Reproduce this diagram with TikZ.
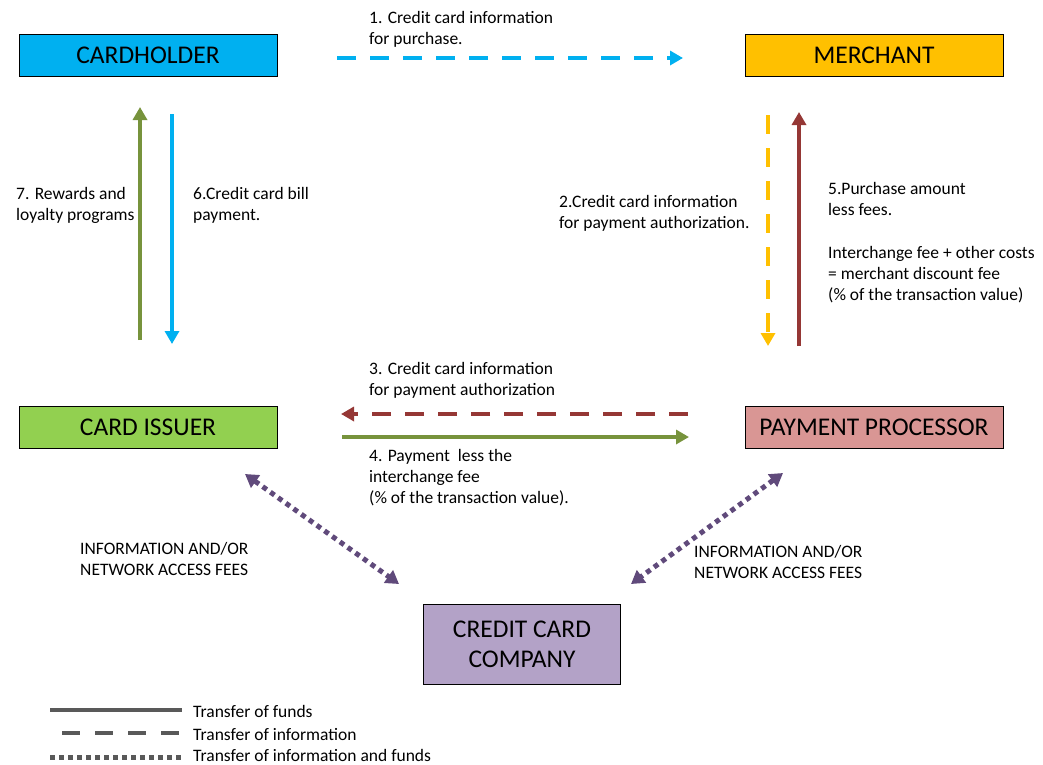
\documentclass[tikz,border=0pt]{standalone}
\usepackage{fontspec}
\setmainfont{Carlito}
\usetikzlibrary{arrows.meta}

\definecolor{holderblue}{HTML}{00B0F0}
\definecolor{merchantyellow}{HTML}{FFC000}
\definecolor{issuergreen}{HTML}{92D050}
\definecolor{processorred}{HTML}{D99694}
\definecolor{companypurple}{HTML}{B3A2C7}
\definecolor{fundsgreen}{HTML}{77933C}
\definecolor{fundsred}{HTML}{953735}
\definecolor{netpurple}{HTML}{604A7B}
\definecolor{legendgray}{HTML}{595959}

\tikzset{
	party/.style={draw, line width=0.8pt, minimum width=258pt, minimum height=42pt, inner sep=0pt, align=center, font=\fontsize{25.5}{30}\selectfont},
	note/.style={anchor=north west, inner sep=0pt, align=left, font=\fontsize{17.5}{21.3}\selectfont},
	flow/.style={line width=4pt, -{Triangle[length=13pt, width=14pt]}},
	info/.style={dash pattern=on 19pt off 14pt},
	both/.style={line width=5pt, dash pattern=on 5pt off 4.5pt, {Triangle[length=13pt, width=15pt]}-{Triangle[length=13pt, width=15pt]}},
}

\begin{document}
\begin{tikzpicture}[x=1pt, y=-1pt]
	
	\useasboundingbox (0,0) rectangle (1043,764);
	
	\node[party, fill=holderblue] at (148, 55) (holder) {CARDHOLDER};
	\node[party, fill=merchantyellow] at (874, 55) (merchant) {MERCHANT};
	\node[party, fill=issuergreen] at (148, 427) (issuer) {CARD ISSUER};
	\node[party, fill=processorred] at (874, 427) (processor) {PAYMENT PROCESSOR};
	\node[party, fill=companypurple, minimum width=197pt, minimum height=80pt] at (522, 644) (company) {CREDIT CARD\\COMPANY};
	
	% arrow ends
	\coordinate (p1a) at (337, 58);
	\coordinate (p1b) at (683, 58);
	\coordinate (p7a) at (140, 340);
	\coordinate (p7b) at (140, 107);
	\coordinate (p6a) at (172, 114);
	\coordinate (p6b) at (172, 344);
	\coordinate (p2a) at (768, 115);
	\coordinate (p2b) at (768, 346);
	\coordinate (p5a) at (799, 346);
	\coordinate (p5b) at (799, 112);
	\coordinate (p3a) at (688, 414);
	\coordinate (p3b) at (341, 414);
	\coordinate (p4a) at (342, 437);
	\coordinate (p4b) at (689, 437);
	\coordinate (nla) at (245, 474);
	\coordinate (nlb) at (399, 584);
	\coordinate (nra) at (783, 473);
	\coordinate (nrb) at (631, 584);
	
	\draw[flow, info, holderblue] (p1a) to (p1b);
	\draw[flow, fundsgreen] (p7a) to (p7b);
	\draw[flow, holderblue] (p6a) to (p6b);
	\draw[flow, info, merchantyellow] (p2a) to (p2b);
	\draw[flow, fundsred] (p5a) to (p5b);
	\draw[flow, info, fundsred] (p3a) to (p3b);
	\draw[flow, fundsgreen] (p4a) to (p4b);
	\draw[both, netpurple] (nla) to (nlb);
	\draw[both, netpurple] (nra) to (nrb);
	
	% labels
	\node[note] at (369, 11) (t1) {1. Credit card information\\for purchase.};
	\node[note] at (16, 187) (t7) {7. Rewards and\\loyalty programs};
	\node[note] at (193, 187) (t6) {6.Credit card bill\\payment.};
	\node[note] at (559, 195) (t2) {2.Credit card information\\for payment authorization.};
	\node[note] at (828, 182) (t5) {5.Purchase amount\\less fees.\\[21.3pt]Interchange fee + other costs\\= merchant discount fee\\(\% of the transaction value)};
	\node[note] at (369, 362) (t3) {3. Credit card information\\for payment authorization};
	\node[note] at (369, 449) (t4) {4. Payment\ \ less the\\interchange fee\\(\% of the transaction value).};
	\node[note] at (80, 542) (tl) {INFORMATION AND/OR\\NETWORK ACCESS FEES};
	\node[note] at (694, 545) (tr) {INFORMATION AND/OR\\NETWORK ACCESS FEES};
	
	% legend
	\coordinate (l1a) at (50, 710);
	\coordinate (l1b) at (182, 710);
	\coordinate (l2a) at (50, 733);
	\coordinate (l2b) at (182, 733);
	\coordinate (l3a) at (50, 757);
	\coordinate (l3b) at (182, 757);
	\draw[legendgray, line width=4pt] (l1a) to (l1b);
	\draw[legendgray, line width=4pt, dash pattern=on 18pt off 15pt, dash phase=-12pt] (l2a) to (l2b);
	\draw[legendgray, line width=5pt, dash pattern=on 5pt off 4pt] (l3a) to (l3b);
	\node[note, anchor=west] at (193, 711) (k1) {Transfer of funds};
	\node[note, anchor=west] at (193, 734) (k2) {Transfer of information};
	\node[note, anchor=west] at (193, 755) (k3) {Transfer of information and funds};
	
\end{tikzpicture}
\end{document}
